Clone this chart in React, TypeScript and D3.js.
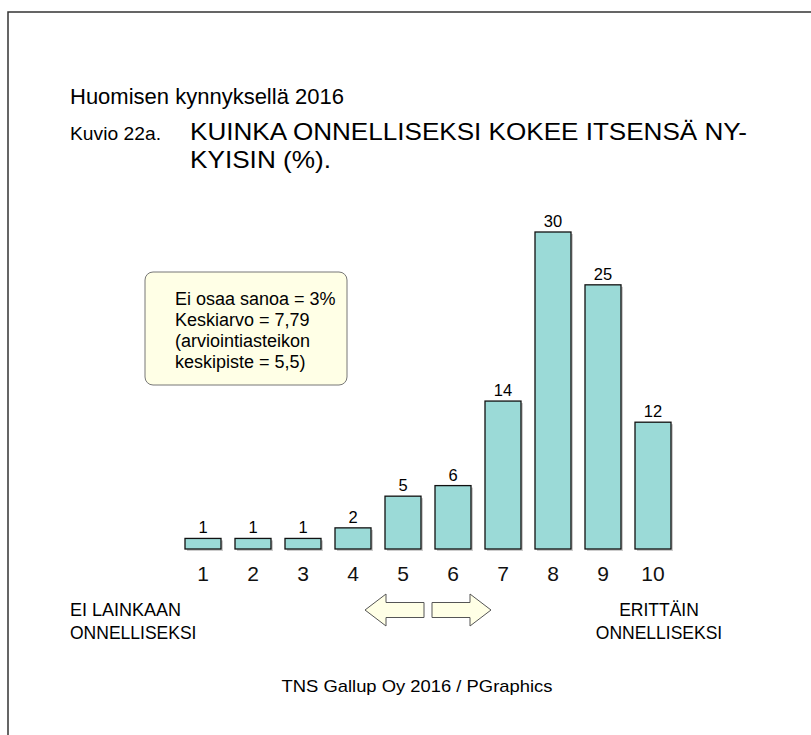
import React, { useEffect, useRef } from "react";
import * as d3 from "d3";

// scale steps 1..10 and share of respondents (%)
const steps = ["1", "2", "3", "4", "5", "6", "7", "8", "9", "10"];
const shares = [1, 1, 1, 2, 5, 6, 14, 30, 25, 12];

const infoLines = [
  "Ei osaa sanoa = 3%",
  "Keskiarvo = 7,79",
  "(arviointiasteikon",
  "keskipiste = 5,5)",
];

const FONT = "'Liberation Sans', Arial, sans-serif";

export default function App() {
  const ref = useRef<SVGSVGElement>(null);

  useEffect(() => {
    document.body.style.margin = "0";
    const svg = d3.select(ref.current);
    svg.selectAll("*").remove();

    const width = 811;
    const height = 735;
    svg.attr("width", width).attr("height", height).style("font-family", FONT);

    svg.append("rect").attr("width", width).attr("height", height).attr("fill", "#fff");

    // page frame (only top and left edges visible)
    svg.append("path")
      .attr("d", `M8,${height} L8,12 L${width},12`)
      .attr("fill", "none")
      .attr("stroke", "#333")
      .attr("stroke-width", 1.5);

    // headings
    svg.append("text").attr("x", 70).attr("y", 104)
      .attr("font-size", 22).text("Huomisen kynnyksellä 2016");
    svg.append("text").attr("x", 70).attr("y", 140)
      .attr("font-size", 19).attr("textLength", 91).attr("lengthAdjust", "spacingAndGlyphs")
      .text("Kuvio 22a.");
    svg.append("text").attr("x", 190).attr("y", 140)
      .attr("font-size", 24).attr("textLength", 557).attr("lengthAdjust", "spacingAndGlyphs")
      .text("KUINKA ONNELLISEKSI KOKEE ITSENSÄ NY-");
    svg.append("text").attr("x", 190).attr("y", 168)
      .attr("font-size", 24).attr("textLength", 141).attr("lengthAdjust", "spacingAndGlyphs")
      .text("KYISIN (%).");

    const x = d3.scaleBand()
      .domain(steps)
      .range([178, 678])
      .paddingInner(0.28)
      .paddingOuter(0.14);

    const y = d3.scaleLinear()
      .domain([0, 30])
      .range([549, 232]);

    const data = steps.map((s, i) => ({ step: s, value: shares[i] }));

    // shadows
    svg.append("g")
      .selectAll("rect")
      .data(data)
      .enter()
      .append("rect")
      .attr("x", d => x(d.step)! + 2)
      .attr("y", d => y(d.value) + 2)
      .attr("width", x.bandwidth())
      .attr("height", d => y(0) - y(d.value))
      .attr("fill", "#cccccc");

    svg.append("g")
      .selectAll("rect")
      .data(data)
      .enter()
      .append("rect")
      .attr("x", d => x(d.step)!)
      .attr("y", d => y(d.value))
      .attr("width", x.bandwidth())
      .attr("height", d => y(0) - y(d.value))
      .attr("fill", "#9bdad7")
      .attr("stroke", "#111")
      .attr("stroke-width", 1.3);

    // value labels
    svg.append("g")
      .selectAll("text")
      .data(data)
      .enter()
      .append("text")
      .attr("x", d => x(d.step)! + x.bandwidth() / 2)
      .attr("y", d => y(d.value) - 5)
      .attr("text-anchor", "middle")
      .attr("font-size", 16.5)
      .text(d => d.value);

    // category labels
    const xAxis = svg.append("g")
      .attr("transform", `translate(0,${y(0)})`)
      .call(d3.axisBottom(x).tickSize(0).tickPadding(17));
    xAxis.select(".domain").remove();
    xAxis.selectAll("text")
      .attr("font-family", FONT)
      .attr("font-size", 21)
      .attr("fill", "#111");

    // scale end captions
    svg.append("text").attr("x", 70).attr("y", 616).attr("font-size", 18).text("EI LAINKAAN");
    svg.append("text").attr("x", 70).attr("y", 639).attr("font-size", 17.5).text("ONNELLISEKSI");
    svg.append("text").attr("x", 659).attr("y", 616).attr("font-size", 17.5)
      .attr("text-anchor", "middle").text("ERITTÄIN");
    svg.append("text").attr("x", 659).attr("y", 639).attr("font-size", 17.5)
      .attr("text-anchor", "middle").text("ONNELLISEKSI");

    // direction arrows between 5 and 6
    const mid = (x("5")! + x("6")! + x.bandwidth()) / 2;
    const cy = 610;
    const arrow = (dir: number) => {
      const s0 = mid + dir * 4;
      const s1 = mid + dir * 42;
      const tip = mid + dir * 63;
      return [
        [s0, cy - 7.5], [s1, cy - 7.5], [s1, cy - 16], [tip, cy],
        [s1, cy + 16], [s1, cy + 7.5], [s0, cy + 7.5],
      ];
    };
    svg.append("g")
      .selectAll("polygon")
      .data([-1, 1])
      .enter()
      .append("polygon")
      .attr("points", d => arrow(d).map(p => p.join(",")).join(" "))
      .attr("fill", "#ffffe6")
      .attr("stroke", "#555")
      .attr("stroke-width", 1);

    // info box
    svg.append("rect")
      .attr("x", 145).attr("y", 272)
      .attr("width", 202).attr("height", 113)
      .attr("rx", 8)
      .attr("fill", "#ffffe6")
      .attr("stroke", "#777")
      .attr("stroke-width", 1);
    svg.append("g")
      .selectAll("text")
      .data(infoLines)
      .enter()
      .append("text")
      .attr("x", 175)
      .attr("y", (_, i) => 305 + i * 21)
      .attr("font-size", 18)
      .text(d => d);

    // source
    svg.append("text")
      .attr("x", 417).attr("y", 692)
      .attr("text-anchor", "middle")
      .attr("font-size", 17)
      .attr("textLength", 271).attr("lengthAdjust", "spacingAndGlyphs")
      .text("TNS Gallup Oy 2016 / PGraphics");
  }, []);

  return <svg ref={ref}></svg>;
}
